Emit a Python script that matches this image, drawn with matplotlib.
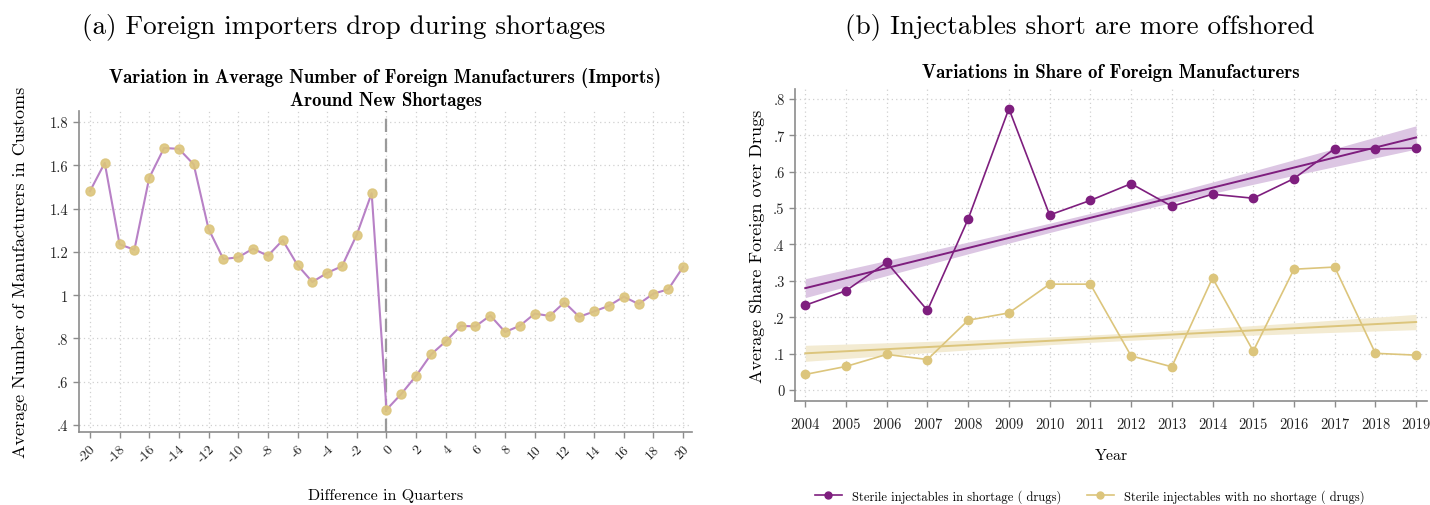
import numpy as np
import matplotlib
matplotlib.use("Agg")
import matplotlib.pyplot as plt
from matplotlib.lines import Line2D

plt.rcParams['font.family'] = ['cmr10', 'DejaVu Serif']
plt.rcParams['axes.unicode_minus'] = False
plt.rcParams['mathtext.fontset'] = 'cm'

# ---------------- Data: panel (a) ----------------
quarters = list(range(-20, 21))
avg_foreign_mfr = [1.480, 1.611, 1.235, 1.210, 1.542, 1.680, 1.676, 1.604, 1.306, 1.167,
                   1.175, 1.215, 1.182, 1.254, 1.139, 1.061, 1.103, 1.134, 1.280, 1.471,
                   0.471, 0.544, 0.628, 0.726, 0.787, 0.858, 0.856, 0.906, 0.830, 0.859,
                   0.915, 0.904, 0.967, 0.900, 0.925, 0.951, 0.993, 0.959, 1.007, 1.027,
                   1.130]
a_xticks = list(range(-20, 21, 2))
a_yticks = [0.4, 0.6, 0.8, 1.0, 1.2, 1.4, 1.6, 1.8]
a_yticklabels = ['.4', '.6', '.8', '1', '1.2', '1.4', '1.6', '1.8']

# ---------------- Data: panel (b) ----------------
years = list(range(2004, 2020))
share_shortage = [0.233, 0.273, 0.351, 0.219, 0.470, 0.773, 0.481, 0.521,
                  0.567, 0.505, 0.538, 0.527, 0.581, 0.663, 0.662, 0.665]
share_no_shortage = [0.043, 0.065, 0.098, 0.084, 0.192, 0.212, 0.291, 0.291,
                     0.094, 0.064, 0.308, 0.107, 0.332, 0.338, 0.101, 0.096]
# fitted lines (values at 2004 and 2019) and CI half-widths (start, middle, end)
fit_shortage_ends = [0.280, 0.694]
ci_shortage = [0.026, 0.012, 0.032]
fit_noshort_ends = [0.101, 0.187]
ci_noshort = [0.022, 0.010, 0.021]
b_yticks = [0, 0.1, 0.2, 0.3, 0.4, 0.5, 0.6, 0.7, 0.8]
b_yticklabels = ['0', '.1', '.2', '.3', '.4', '.5', '.6', '.7', '.8']

# colors
purple = '#7e1e7e'
purple_light = '#b881c6'
purple_band = '#dcc6e3'
gold = '#dcc57c'
gold_band = '#f3ebd2'
spine_col = '#8c8c8c'
grid_col = '#d0d0d0'

fig = plt.figure(figsize=(14.3, 5.06), dpi=100)

def style_axes(ax):
    for s in ['top', 'right']:
        ax.spines[s].set_visible(False)
    for s in ['left', 'bottom']:
        ax.spines[s].set_color(spine_col)
        ax.spines[s].set_linewidth(1.2)
    ax.tick_params(colors=spine_col, labelcolor='#222222', length=4, width=1.0, labelsize=10.5)
    ax.grid(True, linestyle=(0, (1, 2.5)), color=grid_col, linewidth=0.9)
    ax.set_axisbelow(True)

# ---------------- Panel (a) ----------------
axa = fig.add_axes([0.0552, 0.1443, 0.4287, 0.6344])
style_axes(axa)
axa.plot(quarters, avg_foreign_mfr, color=purple_light, lw=1.5, zorder=3)
axa.plot(quarters, avg_foreign_mfr, linestyle='none', marker='o', ms=6.5,
         mfc=gold, mec=gold, alpha=0.9, zorder=4)
axa.axvline(0, color='#9a9a9a', lw=1.6, ls=(0, (6, 3)), zorder=2)
axa.set_xlim(-20.74, 20.6)
axa.set_ylim(0.368, 1.851)
axa.set_xticks(a_xticks)
axa.set_xticklabels([str(t) for t in a_xticks], rotation=45, ha='right',
                    rotation_mode='anchor', fontsize=10)
axa.set_yticks(a_yticks)
axa.set_yticklabels(a_yticklabels)
axa.set_ylabel('Average Number of Manufacturers in Customs', fontsize=13, labelpad=16)
axa.set_xlabel('Difference in Quarters', fontsize=11.5)
axa.xaxis.set_label_coords(0.5, -0.175)
axa.set_title('Variation in Average Number of Foreign Manufacturers (Imports)\nAround New Shortages',
              fontfamily='cmb10', fontsize=13.5, pad=4, linespacing=1.3)

# ---------------- Panel (b) ----------------
axb = fig.add_axes([0.556, 0.2055, 0.442, 0.6166])
style_axes(axb)
yr = np.array(years, dtype=float)
xm = (yr[0] + yr[-1]) / 2
half = (yr[-1] - yr[0]) / 2

def fit_band(ends, ci):
    line = ends[0] + (ends[1] - ends[0]) * (yr - yr[0]) / (yr[-1] - yr[0])
    t = (yr - xm) / half
    h_end = np.where(t < 0, ci[0], ci[2])
    hw = np.sqrt(ci[1] ** 2 + (h_end ** 2 - ci[1] ** 2) * t ** 2)
    return line, hw

ls_, hs_ = fit_band(fit_shortage_ends, ci_shortage)
ln_, hn_ = fit_band(fit_noshort_ends, ci_noshort)
axb.fill_between(yr, ls_ - hs_, ls_ + hs_, color=purple_band, lw=0, zorder=1)
axb.fill_between(yr, ln_ - hn_, ln_ + hn_, color=gold_band, lw=0, zorder=1)
axb.plot(yr, ls_, color=purple, lw=1.4, zorder=2)
axb.plot(yr, ln_, color=gold, lw=1.4, zorder=2)
axb.plot(years, share_shortage, color=purple, lw=1.2, marker='o', ms=6, zorder=3)
axb.plot(years, share_no_shortage, color=gold, lw=1.2, marker='o', ms=6, zorder=3)
axb.set_xlim(2003.75, 2019.27)
axb.set_ylim(-0.030, 0.827)
axb.set_xticks(years)
axb.set_xticklabels([str(y) for y in years])
axb.tick_params(axis='x', pad=8)
axb.set_yticks(b_yticks)
axb.set_yticklabels(b_yticklabels)
axb.set_ylabel('Average Share Foreign over Drugs', fontsize=13, labelpad=6)
axb.set_xlabel('Year', fontsize=11.5, labelpad=12)
axb.set_title('Variations in Share of Foreign Manufacturers', fontfamily='cmb10',
              fontsize=13.5, pad=9)

handles = [Line2D([], [], color=purple, marker='o', ms=5, lw=1.2),
           Line2D([], [], color=gold, marker='o', ms=5, lw=1.2)]
fig.legend(handles, ['Sterile injectables in shortage ( drugs)',
                     'Sterile injectables with no shortage ( drugs)'],
           loc='center', bbox_to_anchor=(0.762, 0.018), ncol=2, frameon=False,
           fontsize=9, handlelength=2.2, columnspacing=2.0)

fig.text(0.24, 0.945, '(a) Foreign importers drop during shortages', fontsize=19.5,
         ha='center', va='center')
fig.text(0.755, 0.945, '(b) Injectables short are more offshored', fontsize=19.5,
         ha='center', va='center')

fig.savefig('out.png', dpi=100)
